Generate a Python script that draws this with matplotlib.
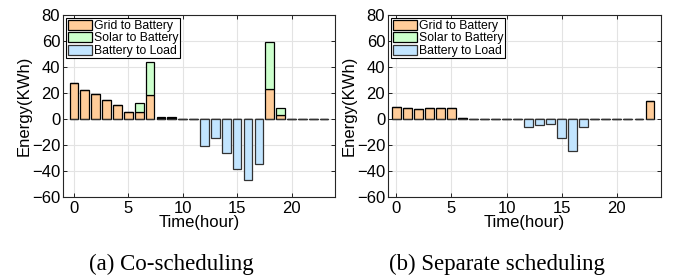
import matplotlib
matplotlib.use("Agg")
import matplotlib.pyplot as plt
import numpy as np

hours = list(range(24))

# (a) Co-scheduling
co_grid = [28, 22.5, 19, 14.6, 10.8, 5.1, 5.6, 18.5, 1.0, 1.0, 0, 0,
           0, 0, 0, 0, 0, 0, 23.3, 3.1, 0, 0, 0, 0]
co_solar = [0, 0, 0, 0, 0, 0, 6.7, 25.1, 0.6, 0.6, 0, 0,
            0, 0, 0, 0, 0, 0, 36.0, 5.4, 0, 0, 0, 0]
co_load = [0, 0, 0, 0, 0, 0, 0, 0, 0, 0, 0, 0,
           -20.6, -14.4, -26.5, -38.5, -47.3, -34.7, 0, 0, 0, 0, 0, 0]

# (b) Separate scheduling
sep_grid = [9.5, 8.5, 7.7, 8.6, 8.5, 8.5, 0.5, 0, 0, 0, 0, 0,
            0, 0, 0, 0, 0, 0, 0, 0, 0, 0, 0, 14.0]
sep_solar = [0] * 24
sep_load = [0, 0, 0, 0, 0, 0, 0, 0, 0, 0, 0, 0,
            -6.2, -4.9, -3.9, -14.4, -24.9, -6.4, 0, 0, 0, 0, 0, 0]

series_labels = ["Grid to Battery", "Solar to Battery", "Battery to Load"]
captions = ["(a) Co-scheduling", "(b) Separate scheduling"]
yticks = [-60, -40, -20, 0, 20, 40, 60, 80]
xticks = [0, 5, 10, 15, 20]

c_grid = "#FFCC99"
c_solar = "#CCFFCC"
c_load = "#C2E5FF"

plt.rcParams['font.family'] = ['Liberation Sans', 'DejaVu Sans']

fig = plt.figure(figsize=(6.76, 2.78), dpi=100)
axes_pos = [[0.0932, 0.2914, 0.4024, 0.6547],
            [0.574, 0.2914, 0.4038, 0.6547]]
xlims = [(-1, 24), (-0.75, 24)]
caption_x = [0.2537, 0.735]
datasets = [(co_grid, co_solar, co_load), (sep_grid, sep_solar, sep_load)]

for i, (pos, (g, s, l)) in enumerate(zip(axes_pos, datasets)):
    ax = fig.add_axes(pos)
    ax.set_axisbelow(True)
    ax.grid(True, color="#E3E3E3", linewidth=0.8)
    w = 0.8
    ax.bar(hours, g, width=w, color=c_grid, edgecolor="black", linewidth=0.9,
           label=series_labels[0], zorder=3)
    ax.bar(hours, s, width=w, bottom=g, color=c_solar, edgecolor="black",
           linewidth=0.9, label=series_labels[1], zorder=3)
    ax.bar(hours, l, width=w, color=c_load, edgecolor="#333333", linewidth=0.9,
           label=series_labels[2], zorder=3)
    ax.set_xlim(*xlims[i])
    ax.set_ylim(-60, 80)
    ax.set_yticks(yticks)
    ax.set_xticks(xticks)
    ax.tick_params(direction="in", top=True, right=True, length=3,
                   width=0.6, labelsize=12)
    ax.tick_params(axis="x", pad=3)
    ax.tick_params(axis="y", pad=2)
    for sp in ax.spines.values():
        sp.set_linewidth(0.8)
        sp.set_color("#262626")
    ax.set_xlabel("Time(hour)", fontsize=12, labelpad=-1)
    ax.set_ylabel("Energy(KWh)", fontsize=12, labelpad=0)
    leg = ax.legend(loc="upper left", fontsize=8.8, handlelength=2.0,
                    handleheight=0.9, labelspacing=0.02, borderpad=0.12,
                    handletextpad=0.2, borderaxespad=0.25, fancybox=False,
                    framealpha=1, edgecolor="black")
    leg.get_frame().set_linewidth(0.8)
    fig.text(caption_x[i], 0.03, captions[i],
             ha="center", va="baseline", fontsize=16.5,
             family=["Liberation Serif", "DejaVu Serif"])

fig.savefig("out.png", dpi=100)
